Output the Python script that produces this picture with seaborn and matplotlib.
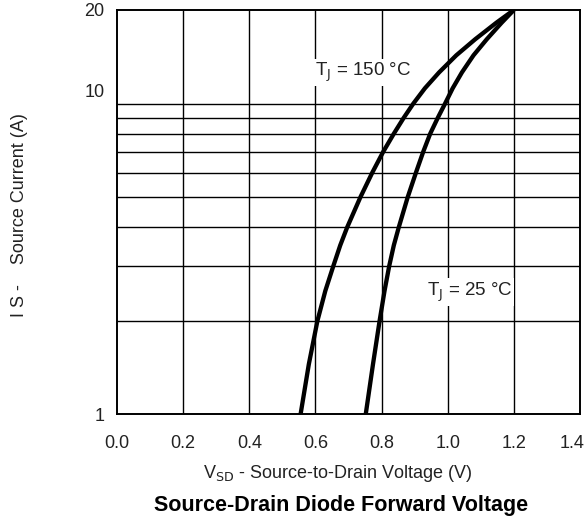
import matplotlib
matplotlib.use("Agg")
import matplotlib.pyplot as plt
import matplotlib.transforms as mtransforms
from matplotlib.ticker import FixedLocator, NullFormatter
import pandas as pd
import seaborn as sns

# Source current (A) and forward voltage (V) at two junction temperatures
current_a = [1, 1.45, 2, 2.5, 3, 3.5, 4, 5, 6, 7, 8, 9, 10, 11.2, 12.6, 14.3, 16.1, 18.2, 20]
vsd_150c = [0.555, 0.580, 0.606, 0.630, 0.654, 0.675, 0.696, 0.736, 0.772, 0.805,
            0.837, 0.867, 0.896, 0.931, 0.974, 1.026, 1.083, 1.147, 1.200]
vsd_25c = [0.752, 0.774, 0.794, 0.809, 0.823, 0.837, 0.852, 0.879, 0.904, 0.926,
           0.947, 0.970, 0.992, 1.015, 1.043, 1.078, 1.118, 1.163, 1.200]
series_names = ["TJ = 150 °C", "TJ = 25 °C"]

x_ticks = [0.0, 0.2, 0.4, 0.6, 0.8, 1.0, 1.2, 1.4]
x_tick_labels = ["0.0", "0.2", "0.4", "0.6", "0.8", "1.0", "1.2", "1.4"]
y_ticks = [1, 10, 20]
y_tick_labels = ["1", "10", "20"]
y_grid = [2, 3, 4, 5, 6, 7, 8, 9, 10]

df = pd.concat([
    pd.DataFrame({"V": vsd_150c, "I": current_a, "T": series_names[0]}),
    pd.DataFrame({"V": vsd_25c, "I": current_a, "T": series_names[1]}),
])

sns.set_theme(style="white")
plt.rcParams["font.family"] = ["Liberation Sans", "DejaVu Sans"]
plt.rcParams["lines.solid_capstyle"] = "butt"

fig = plt.figure(figsize=(5.87, 5.23), dpi=100)
ax = fig.add_axes([0.1993, 0.2075, 0.7888, 0.7734])
ax.set_yscale("log")

sns.lineplot(data=df, x="V", y="I", hue="T", palette=["black", "black"],
             sort=False, estimator=None, linewidth=3.1, legend=False, ax=ax,
             zorder=4)

ax.set_xlim(0, 1.4)
ax.set_ylim(1, 20)

# grid
for xv in x_ticks[1:-1]:
    ax.axvline(xv, color="black", linewidth=1.0, zorder=1)
for yv in y_grid:
    ax.axhline(yv, color="black", linewidth=1.0, zorder=1)

ax.set_xticks(x_ticks)
ax.set_xticklabels(x_tick_labels)
ax.yaxis.set_major_locator(FixedLocator(y_ticks))
ax.yaxis.set_minor_locator(FixedLocator([]))
ax.yaxis.set_minor_formatter(NullFormatter())
ax.set_yticklabels(y_tick_labels)
ax.tick_params(axis="both", length=0, labelsize=13, colors="#222222")
ax.tick_params(axis="x", pad=15)
ax.tick_params(axis="y", pad=9)

# lift the "10" label slightly, nudge "1.4" inside the canvas
for lbl in ax.get_yticklabels():
    if lbl.get_text() == "10":
        lbl.set_transform(lbl.get_transform() +
                          mtransforms.ScaledTranslation(0, 13 / 100, fig.dpi_scale_trans))
for lbl in ax.get_xticklabels():
    if lbl.get_text() == "1.4":
        lbl.set_transform(lbl.get_transform() +
                          mtransforms.ScaledTranslation(-8 / 100, 0, fig.dpi_scale_trans))

for sp in ax.spines.values():
    sp.set_color("black")
    sp.set_linewidth(1.4)
    sp.set_visible(True)

ax.set_xlabel("")
ax.set_ylabel("")

box = dict(facecolor="white", edgecolor="none", pad=1.5)
ax.text(0.598, 12.6, r"T$_{\rm J}$ = 150 °C", fontsize=13.5, color="#222222",
        va="center", ha="left", bbox=box, zorder=3)
ax.text(0.936, 2.48, r"T$_{\rm J}$ = 25 °C", fontsize=13.5, color="#222222",
        va="center", ha="left", bbox=box, zorder=3)

fig.text(338 / 587, 1 - 474 / 523, r"V$_{\rm SD}$ - Source-to-Drain Voltage (V)",
         fontsize=13, color="#222222", ha="center", va="center")
fig.text(20 / 587, 1 - 215 / 523, "I S -    Source Current (A)", rotation=90,
         fontsize=13, color="#222222", ha="center", va="center")
fig.text(341 / 587, 1 - 505 / 523, "Source-Drain Diode Forward Voltage",
         fontsize=15.5, fontweight="bold", color="black", ha="center", va="center")

fig.savefig("out.png", dpi=100)
